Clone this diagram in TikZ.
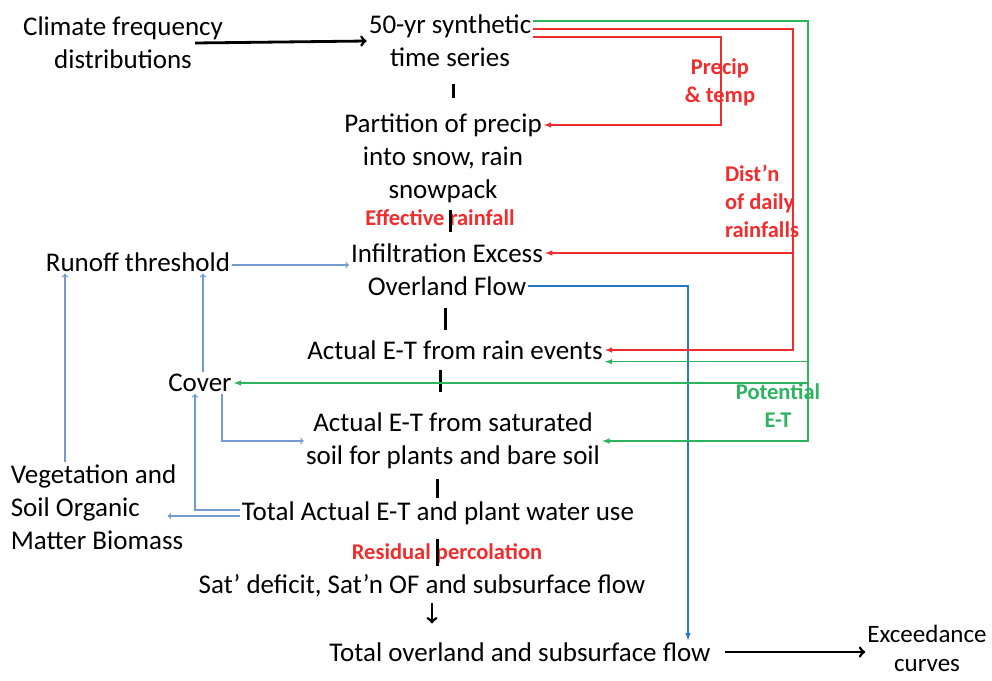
\documentclass[tikz,border=0pt]{standalone}
\usepackage{fontspec}
\setmainfont{Carlito}
\usetikzlibrary{calc,arrows}
\definecolor{myred}{RGB}{240,45,45}
\definecolor{mygreen}{RGB}{45,180,95}
\definecolor{myblue}{RGB}{115,155,210}
\definecolor{flowblue}{RGB}{40,120,200}
\tikzset{
  txt/.style={font=\fontsize{27}{33}\selectfont, align=center, inner sep=2pt},
  redlbl/.style={font=\fontsize{22.5}{28}\selectfont\bfseries, text=myred, align=center, inner sep=1pt},
  grnlbl/.style={font=\fontsize{22.5}{28}\selectfont\bfseries, text=mygreen, align=center, inner sep=1pt},
  bar/.style={line width=3pt},
  blkarr/.style={line width=2.8pt, ->, >=to},
  bluarr/.style={myblue, line width=1.3pt, ->, >=to},
  flowarr/.style={flowblue, line width=1.5pt, ->, >=latex},
  redarr/.style={myred, line width=1.5pt, ->, >=latex},
  grnarr/.style={mygreen, line width=1.5pt, ->, >=latex}
}
\begin{document}
\begin{tikzpicture}[x=1pt, y=-1pt]
  \useasboundingbox (0,0) rectangle (992,680);
  \node[txt] (clim) at (123,43) {Climate frequency\\distributions};
  \node[txt] (syn) at (450,41) {50-yr synthetic\\time series};
  \node[txt] (part) at (443,158) {Partition of precip\\into snow, rain\\snowpack};
  \node[redlbl] (eff) at (440,218) {Effective rainfall};
  \node[txt] (infil) at (447,253) {Infiltration Excess};
  \node[txt] (over) at (447,286) {Overland Flow};
  \node[txt] (rain) at (455,350) {Actual E-T from rain events};
  \node[txt] (cover) at (200,383) {Cover};
  \node[txt] (satsoil) at (453,441) {Actual E-T from saturated\\soil for plants and bare soil};
  \node[txt] (tot) at (438,513) {Total Actual E-T and plant water use};
  \node[redlbl] (resid) at (447,553) {Residual percolation};
  \node[txt] (satdef) at (422,586) {Sat' deficit, Sat'n OF and subsurface flow};
  \node[txt] (totflow) at (520,652) {Total overland and subsurface flow};
  \node[txt, font=\fontsize{25}{29}\selectfont] (exc) at (927,648) {Exceedance\\curves};
  \node[txt] (run) at (138,262) {Runoff threshold};
  \node[txt, align=left] (veg) at (97,507) {Vegetation and\\Soil Organic\\Matter Biomass};
  \node[redlbl] (prec) at (720,82) {Precip\\\& temp};
  \node[redlbl, align=left] (dist) at (762,201) {Dist'n\\of daily\\rainfalls};
  \node[grnlbl] (pot) at (778,406) {Potential\\E-T};
  \coordinate (rc) at (793,0);
  \coordinate (pc) at (721,0);
  \coordinate (gc) at (808,0);

  \draw[blkarr] ([xshift=-30pt]clim.east) -- (syn.west);
  \draw[bar] ([xshift=3pt,yshift=-15pt]syn.south) -- ++(0,14);
  \draw[bar] ([xshift=7pt,yshift=-5pt]part.south) -- ++(0,22);
  \draw[bar] ([xshift=-2pt,yshift=-10pt]over.south) -- ++(0,22);
  \draw[bar] ([xshift=-15pt,yshift=-8pt]rain.south) -- ++(0,22);
  \draw[bar] ([xshift=-16pt,yshift=-8pt]satsoil.south) -- ++(0,19);
  \draw[bar] ([xshift=-1pt,yshift=-12pt]tot.south) -- ++(0,27);
  \draw[blkarr] ([xshift=10pt,yshift=-4pt]satdef.south) -- ++(0,20);
  \draw[blkarr] ([xshift=12pt]totflow.east) -- (exc.west |- totflow.east);

  \draw[bluarr] ([yshift=-3pt]run.east) -- ([yshift=-3pt]run.east -| infil.west);
  \draw[bluarr] ([xshift=-32pt]veg.north) -- ([xshift=-32pt]veg.north |- run.south);
  \draw[bluarr] ([xshift=3pt]cover.north) -- ([xshift=3pt]cover.north |- run.south);
  \draw[bluarr] ([xshift=22pt]cover.south) |- (satsoil.west);
  \draw[bluarr] ([yshift=3pt]tot.west) -| ([xshift=-5pt]cover.south);
  \draw[bluarr] ([yshift=-3pt]tot.west) -- ++(-72,0);
  \draw[flowarr] (over.east) -| ([xshift=168pt]totflow.north);

  \draw[redarr] ([yshift=12pt]syn.east) -| (rc |- rain.east) -- (rain.east);
  \draw[redarr] (rc |- infil.east) -- (infil.east);
  \draw[redarr] ([yshift=4pt]syn.east) -| ([yshift=33pt]pc |- part.east) -- ([yshift=33pt]part.east);
  \draw[grnarr] ([yshift=20pt]syn.east) -| (gc |- satsoil.east) -- (satsoil.east);
  \draw[grnarr] (gc |- rain.south east) -- (rain.south east);
  \draw[grnarr] (gc |- cover.east) -- (cover.east);
\end{tikzpicture}
\end{document}
